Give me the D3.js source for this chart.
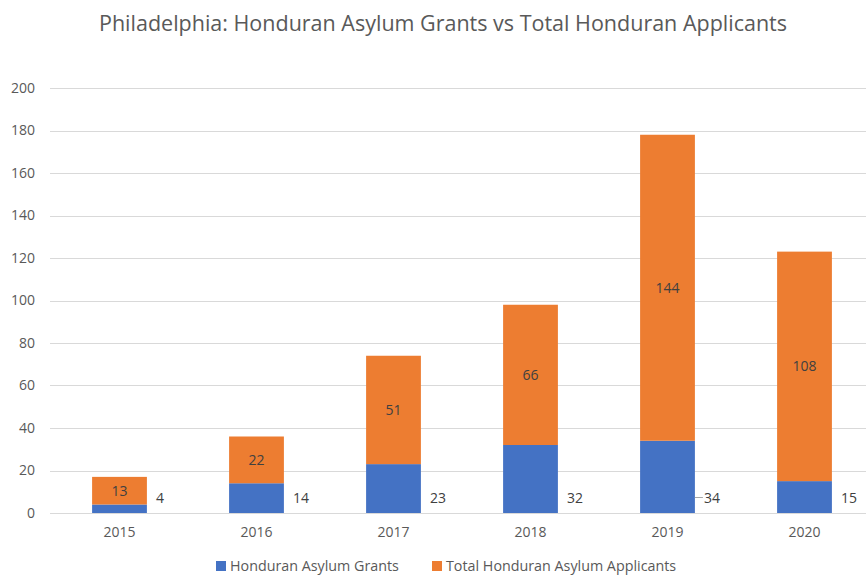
<!DOCTYPE html>
<html>
<head>
<meta charset="utf-8">
<script src="https://cdn.jsdelivr.net/npm/d3@7"></script>
<style>
  html, body { margin: 0; padding: 0; background: #fff; }
  svg { display: block; font-family: "Open Sans", "Liberation Sans", sans-serif; }
</style>
</head>
<body>
<svg id="chart" width="866" height="575"></svg>
<script>
// Honduran asylum cases handled in Philadelphia, by year
const years = ["2015", "2016", "2017", "2018", "2019", "2020"];
const grants = [4, 14, 23, 32, 34, 15];
const otherApplicants = [13, 22, 51, 66, 144, 108];
const yTicks = [0, 20, 40, 60, 80, 100, 120, 140, 160, 180, 200];
const seriesNames = ["Honduran Asylum Grants", "Total Honduran Asylum Applicants"];
const colors = ["#4472C4", "#ED7D31"];

const svg = d3.select("#chart");
const W = 866, H = 575;

const x = d3.scaleBand().domain(years).range([51, 873]).paddingInner(0.6).paddingOuter(0.3);
const y = d3.scaleLinear().domain([0, 200]).range([513, 88]);

// title
svg.append("text")
  .attr("x", 443).attr("y", 31)
  .attr("text-anchor", "middle")
  .attr("font-size", 21.5)
  .attr("fill", "#595959")
  .text("Philadelphia: Honduran Asylum Grants vs Total Honduran Applicants");

// gridlines
svg.append("g").selectAll("line").data(yTicks).join("line")
  .attr("x1", 50).attr("x2", W)
  .attr("y1", d => Math.round(y(d)) + 0.5).attr("y2", d => Math.round(y(d)) + 0.5)
  .attr("stroke", "#D9D9D9").attr("stroke-width", 1);

// y axis labels
const yAxis = d3.axisLeft(y).tickValues(yTicks).tickSize(0).tickPadding(0);
svg.append("g").attr("transform", "translate(35,0)").call(yAxis)
  .call(g => g.select(".domain").remove())
  .call(g => g.selectAll("text").attr("font-size", 14).attr("fill", "#595959")
    .attr("font-family", "\"Open Sans\", sans-serif"));

// x axis labels
const xAxis = d3.axisBottom(x).tickSize(0).tickPadding(0);
svg.append("g").attr("transform", "translate(0,527)").call(xAxis)
  .call(g => g.select(".domain").remove())
  .call(g => g.selectAll("text").attr("font-size", 14).attr("fill", "#595959")
    .attr("font-family", "\"Open Sans\", sans-serif"));

// stacked data
const rows = years.map((yr, i) => ({ year: yr, grants: grants[i], other: otherApplicants[i] }));
const stack = d3.stack().keys(["grants", "other"])(rows);

svg.append("g").selectAll("g").data(stack).join("g")
  .attr("fill", (d, i) => colors[i])
  .selectAll("rect").data(d => d).join("rect")
  .attr("x", d => x(d.data.year))
  .attr("width", x.bandwidth())
  .attr("y", d => y(d[1]))
  .attr("height", d => y(d[0]) - y(d[1]));

// labels inside the orange segments
svg.append("g").selectAll("text").data(stack[1]).join("text")
  .attr("x", d => x(d.data.year) + x.bandwidth() / 2)
  .attr("y", d => (y(d[0]) + y(d[1])) / 2)
  .attr("dy", "0.35em")
  .attr("text-anchor", "middle")
  .attr("font-size", 14).attr("fill", "#404040")
  .text(d => d.data.other);

// grant labels beside the blue segments
svg.append("g").selectAll("text").data(stack[0]).join("text")
  .attr("x", d => x(d.data.year) + x.bandwidth() + 9)
  .attr("y", y(0) - 15)
  .attr("dy", "0.35em")
  .attr("font-size", 14).attr("fill", "#404040")
  .text(d => d.data.grants);

// leader line for the 2019 grant label
const lx = x("2019") + x.bandwidth();
svg.append("path")
  .attr("d", `M${lx},${y(0) - 15.5}H${lx + 8}`)
  .attr("stroke", "#A6A6A6").attr("fill", "none").attr("stroke-width", 1);

// legend
const legend = svg.append("g");
const legendX = [216, 432];
seriesNames.forEach((name, i) => {
  legend.append("rect").attr("x", legendX[i]).attr("y", 561).attr("width", 10).attr("height", 10).attr("fill", colors[i]);
  legend.append("text").attr("x", legendX[i] + 14).attr("y", 566).attr("dy", "0.35em")
    .attr("font-size", 14.3).attr("fill", "#595959").text(name);
});
</script>
</body>
</html>
